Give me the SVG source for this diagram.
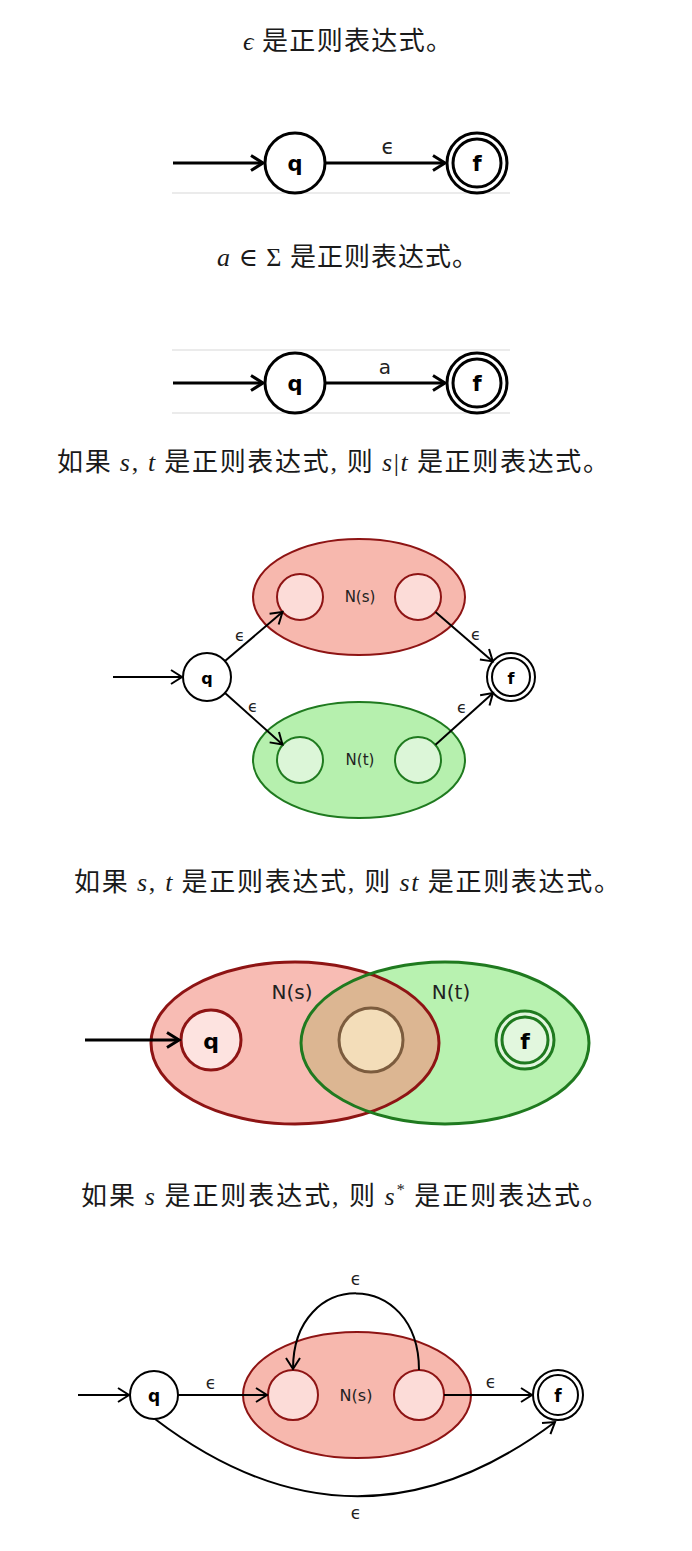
<svg xmlns="http://www.w3.org/2000/svg" width="692" height="1551" viewBox="0 0 692 1551">
<style>
.t{font-family:"Noto Sans CJK SC","Noto Sans CJK JP",sans-serif;font-size:26px;fill:#1a1a1a}
.m{font-family:"Liberation Serif","DejaVu Serif",serif;font-style:italic}
.mu{font-family:"Liberation Serif","DejaVu Serif",serif;font-style:normal}
.st{fill:#fff;stroke:#000;stroke-width:3}
.st2{fill:#fff;stroke:#000;stroke-width:2}
.lb{font-family:"DejaVu Sans","Liberation Sans",sans-serif;font-weight:bold;text-anchor:middle;dominant-baseline:central;fill:#000}
.el{font-family:"DejaVu Sans","Liberation Sans",sans-serif;text-anchor:middle;dominant-baseline:central;fill:#222}
.e3{fill:none;stroke:#000;stroke-width:3}
.e2{fill:none;stroke:#000;stroke-width:2}
.faint{stroke:#e4e4e4;stroke-width:1.5}
.redE{fill:#f7b8ae;stroke:#8e1414;stroke-width:2}
.redC{fill:#fcdcd8;stroke:#8e1414;stroke-width:2}
.grnE{fill:#b6f0ae;stroke:#1f7a1f;stroke-width:2}
.grnC{fill:#dcf6d8;stroke:#1f7a1f;stroke-width:2}
</style>
<defs>
<marker id="ah3" markerUnits="userSpaceOnUse" markerWidth="30" markerHeight="30" refX="0" refY="0" orient="auto" overflow="visible">
<path d="M-12,-7.5 L0,0 L-12,7.5" fill="none" stroke="#000" stroke-width="3"/>
</marker>
<marker id="ah2" markerUnits="userSpaceOnUse" markerWidth="30" markerHeight="30" refX="0" refY="0" orient="auto" overflow="visible">
<path d="M-11,-7 L0,0 L-11,7" fill="none" stroke="#000" stroke-width="2"/>
</marker>
<clipPath id="redClip"><ellipse cx="295" cy="1043" rx="144" ry="81"/></clipPath>
</defs>
<rect width="692" height="1551" fill="#fff"/>

<!-- titles -->
<g id="titles">
<text class="t" x="243" y="50" textLength="209" lengthAdjust="spacing"><tspan class="m">ϵ</tspan> 是正则表达式。</text>
<text class="t" x="217" y="266" textLength="261" lengthAdjust="spacing"><tspan class="m">a</tspan><tspan class="mu"> ∈ Σ </tspan>是正则表达式。</text>
<text class="t" x="57" y="471" textLength="552" lengthAdjust="spacing">如果 <tspan class="m">s</tspan><tspan class="mu">, </tspan><tspan class="m">t</tspan> 是正则表达式<tspan class="mu">, </tspan>则 <tspan class="m">s</tspan><tspan class="mu">|</tspan><tspan class="m">t</tspan> 是正则表达式。</text>
<text class="t" x="74" y="891" textLength="546" lengthAdjust="spacing">如果 <tspan class="m">s</tspan><tspan class="mu">, </tspan><tspan class="m">t</tspan> 是正则表达式<tspan class="mu">, </tspan>则 <tspan class="m">st</tspan> 是正则表达式。</text>
<text class="t" x="81" y="1205" textLength="527" lengthAdjust="spacing">如果 <tspan class="m">s</tspan> 是正则表达式<tspan class="mu">, </tspan>则 <tspan class="m">s</tspan><tspan class="mu" font-size="16" dy="-10">*</tspan><tspan dy="10"> 是正则表达式。</tspan></text>
</g>

<!-- faint background lines -->
<g id="faint">
<line class="faint" x1="172" y1="193" x2="510" y2="193"/>
<line class="faint" x1="172" y1="350" x2="510" y2="350"/>
<line class="faint" x1="172" y1="413" x2="510" y2="413"/>
</g>

<!-- section 1 -->
<g id="s1-connectors">
<line class="e3" x1="173" y1="163" x2="263" y2="163" marker-end="url(#ah3)"/>
<line class="e3" x1="326" y1="163" x2="445" y2="163" marker-end="url(#ah3)"/>
<text class="el" x="388" y="147" font-size="21">ϵ</text>
</g>
<g id="s1-q"><circle class="st" cx="295" cy="163" r="30"/><text class="lb" x="295" y="164" font-size="21">q</text></g>
<g id="s1-f"><circle class="st" cx="477" cy="163" r="30"/><circle class="st" cx="477" cy="163" r="24"/><text class="lb" x="477" y="164" font-size="21">f</text></g>

<!-- section 2 -->
<g id="s2-connectors">
<line class="e3" x1="173" y1="383" x2="263" y2="383" marker-end="url(#ah3)"/>
<line class="e3" x1="326" y1="383" x2="445" y2="383" marker-end="url(#ah3)"/>
<text class="el" x="385" y="367" font-size="20">a</text>
</g>
<g id="s2-q"><circle class="st" cx="295" cy="383" r="30"/><text class="lb" x="295" y="384" font-size="21">q</text></g>
<g id="s2-f"><circle class="st" cx="477" cy="383" r="30"/><circle class="st" cx="477" cy="383" r="24"/><text class="lb" x="477" y="384" font-size="21">f</text></g>

<!-- section 3 -->
<g id="s3-Ns">
<ellipse class="redE" cx="359" cy="597" rx="106" ry="58"/>
<circle class="redC" cx="300" cy="597" r="23"/>
<circle class="redC" cx="418" cy="597" r="23"/>
<text class="el" x="360" y="597" font-size="15">N(s)</text>
</g>
<g id="s3-Nt">
<ellipse class="grnE" cx="359" cy="760" rx="106" ry="58"/>
<circle class="grnC" cx="300" cy="760" r="23"/>
<circle class="grnC" cx="418" cy="760" r="23"/>
<text class="el" x="360" y="760" font-size="15">N(t)</text>
</g>
<g id="s3-q"><circle class="st2" cx="207" cy="677" r="24"/><text class="lb" x="207" y="678" font-size="16">q</text></g>
<g id="s3-f"><circle class="st2" cx="511" cy="677" r="24"/><circle class="st2" cx="511" cy="677" r="19"/><text class="lb" x="511" y="678" font-size="16">f</text></g>
<g id="s3-connectors">
<line class="e2" x1="113" y1="677" x2="182" y2="677" marker-end="url(#ah2)"/>
<line class="e2" x1="225" y1="661" x2="282.5" y2="612" marker-end="url(#ah2)"/>
<line class="e2" x1="225" y1="693" x2="282.5" y2="744.5" marker-end="url(#ah2)"/>
<line class="e2" x1="435.5" y1="612" x2="492.8" y2="661.4" marker-end="url(#ah2)"/>
<line class="e2" x1="435.5" y1="744.7" x2="493" y2="693" marker-end="url(#ah2)"/>
<text class="el" x="240" y="635" font-size="16">ϵ</text>
<text class="el" x="253" y="706" font-size="16">ϵ</text>
<text class="el" x="476" y="634" font-size="16">ϵ</text>
<text class="el" x="462" y="707" font-size="16">ϵ</text>
</g>

<!-- section 4 -->
<g id="s4-Ns-Nt">
<ellipse cx="295" cy="1043" rx="144" ry="81" fill="#f8bcb4"/>
<ellipse cx="445" cy="1043" rx="144" ry="81" fill="#b8f2b0"/>
<ellipse cx="445" cy="1043" rx="144" ry="81" fill="#dcb692" clip-path="url(#redClip)"/>
<ellipse cx="295" cy="1043" rx="144" ry="81" fill="none" stroke="#8e1414" stroke-width="3"/>
<ellipse cx="445" cy="1043" rx="144" ry="81" fill="none" stroke="#1f7a1f" stroke-width="3"/>
<text class="el" x="292" y="992" font-size="20">N(s)</text>
<text class="el" x="451" y="992" font-size="20">N(t)</text>
</g>
<g id="s4-mid"><circle cx="371" cy="1040" r="32" fill="#f3ddb9" stroke="#7c5c3e" stroke-width="3"/></g>
<g id="s4-q"><circle cx="211" cy="1040" r="30" fill="#fde3e0" stroke="#8e1414" stroke-width="3"/><text class="lb" x="211" y="1041" font-size="22">q</text></g>
<g id="s4-f"><circle cx="525" cy="1040" r="29" fill="#e2f7de" stroke="#1f7a1f" stroke-width="3"/><circle cx="525" cy="1040" r="23" fill="#e2f7de" stroke="#1f7a1f" stroke-width="3"/><text class="lb" x="525" y="1041" font-size="22">f</text></g>
<g id="s4-connectors">
<line class="e3" x1="85" y1="1040" x2="179" y2="1040" marker-end="url(#ah3)"/>
</g>

<!-- section 5 -->
<g id="s5-Ns">
<ellipse class="redE" cx="357" cy="1395" rx="114" ry="63"/>
<circle class="redC" cx="293" cy="1395" r="25"/>
<circle class="redC" cx="419" cy="1395" r="25"/>
<text class="el" x="356" y="1395" font-size="16">N(s)</text>
</g>
<g id="s5-q"><circle class="st2" cx="154" cy="1395" r="24"/><text class="lb" x="154" y="1396" font-size="17">q</text></g>
<g id="s5-f"><circle class="st2" cx="558" cy="1395" r="25"/><circle class="st2" cx="558" cy="1395" r="20"/><text class="lb" x="558" y="1396" font-size="17">f</text></g>
<g id="s5-connectors">
<line class="e2" x1="78" y1="1395" x2="129" y2="1395" marker-end="url(#ah2)"/>
<line class="e2" x1="178" y1="1395" x2="267" y2="1395" marker-end="url(#ah2)"/>
<line class="e2" x1="444" y1="1395" x2="532" y2="1395" marker-end="url(#ah2)"/>
<path class="e2" d="M419,1370 C419,1268 293,1268 293,1369" marker-end="url(#ah2)"/>
<path class="e2" d="M155,1419 Q356,1572 555,1422" marker-end="url(#ah2)"/>
<text class="el" x="211" y="1383" font-size="17">ϵ</text>
<text class="el" x="491" y="1382" font-size="17">ϵ</text>
<text class="el" x="356" y="1279" font-size="17">ϵ</text>
<text class="el" x="356" y="1513" font-size="17">ϵ</text>
</g>
</svg>
